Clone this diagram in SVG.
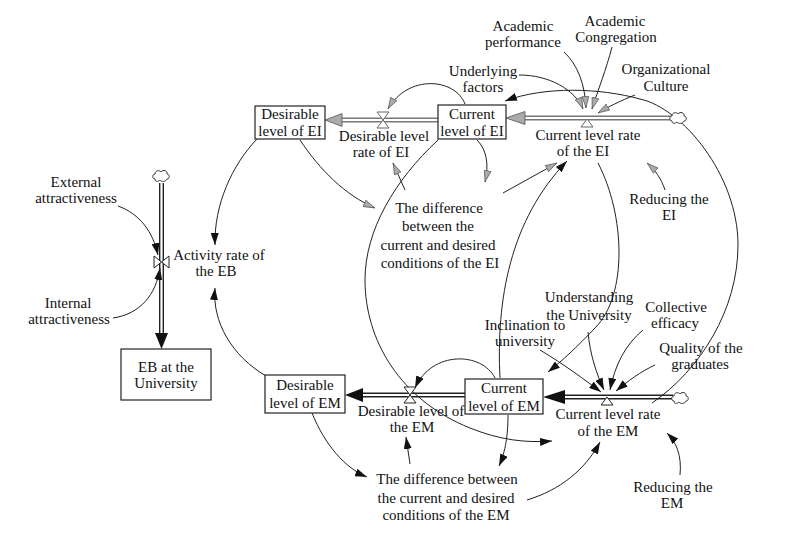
<svg xmlns="http://www.w3.org/2000/svg" width="804" height="549" viewBox="0 0 804 549" font-family="'Liberation Serif', 'Times New Roman', serif">
<style>
text{font-family:"Liberation Serif","Times New Roman",serif;font-size:15px;fill:#111;text-anchor:middle}
.box{fill:#fff;stroke:#222;stroke-width:1.2}
.c{fill:none;stroke:#222;stroke-width:1}
.cb{marker-end:url(#ab)}
.cg{marker-end:url(#ag)}
.pipeO{fill:none;stroke:#222;stroke-width:5}
.pipeI{fill:none;stroke:#fff;stroke-width:2.2}
.pipeOg{fill:none;stroke:#777;stroke-width:5}
.valve{fill:#fff;stroke:#222;stroke-width:1}
.valveg{fill:#fff;stroke:#666;stroke-width:1}
.fa{fill:#111}
.fag{fill:#aaa;stroke:#555;stroke-width:0.8}
.cloud{fill:#fff;stroke:#333;stroke-width:1}
</style>
<defs>
<marker id="ab" viewBox="0 0 12 8" refX="12" refY="4" markerWidth="12" markerHeight="8" orient="auto" markerUnits="userSpaceOnUse"><path d="M0,0 L12,4 L0,8 z" fill="#111"/></marker>
<marker id="ag" viewBox="0 0 12 8" refX="12" refY="4" markerWidth="12" markerHeight="8" orient="auto" markerUnits="userSpaceOnUse"><path d="M0.5,0.5 L11.5,4 L0.5,7.5 z" fill="#aaa" stroke="#555" stroke-width="0.7"/></marker>
<path id="cloudp" d="M-6,3 C-9,3 -9,-2 -6,-2 C-6,-6 -1,-6 0,-4 C2,-7 7,-5 6,-2 C9,-2 9,3 6,3 C5,6 0,6 -1,4 C-3,6 -6,6 -6,3 z"/>
</defs>
<rect width="804" height="549" fill="#fff"/>

<g id="connectors">
  <path class="pipeO" d="M161.5,183 L161.5,334"/><path class="pipeI" d="M161.5,183 L161.5,334"/>
  <polygon class="fa" points="155,333 168,333 161.5,349"/>
  <path class="pipeOg" d="M340,120 L438,120"/><path class="pipeI" d="M340,120 L438,120"/>
  <polygon class="fag" points="325,120 342,113.5 342,126.5"/>
  <path class="pipeOg" d="M523,118 L671,118"/><path class="pipeI" d="M523,118 L671,118"/>
  <polygon class="fag" points="506,118 525,111.5 525,124.5"/>
  <path class="pipeO" d="M360,395 L465,395"/><path class="pipeI" d="M360,395 L465,395"/>
  <polygon class="fa" points="345,395 363,388 363,402"/>
  <path class="pipeO" d="M562,397 L673,397"/><path class="pipeI" d="M562,397 L673,397"/>
  <polygon class="fa" points="543,397 565,390 565,404"/>

  <path class="c cb" d="M118,206 C140,214 153,232 158,255"/>
  <path class="c cb" d="M113,318 C140,314 156,295 160,268"/>
  <path class="c cb" d="M257,139 C232,165 214,205 215,245"/>
  <path class="c cb" d="M266,376 C232,356 212,322 215,288"/>

  <path class="c cg" d="M465,104 C455,78 408,74 388,109"/>
  <path class="c cg" d="M477,140 C487,150 489,165 485,182"/>
  <path class="c cg" d="M300,140 C320,170 345,195 375,208"/>
  <path class="c cg" d="M405,190 L393,163"/>
  <path class="c cg" d="M503,193 L557,163"/>
  <path class="c cg" d="M665,190 C661,178 655,170 647,163"/>
  <path class="c cg" d="M519,75 C550,75 575,90 583,109"/>
  <path class="c cg" d="M564,52 C578,65 585,85 586,108"/>
  <path class="c cg" d="M612,47 C606,70 598,90 592,109"/>
  <path class="c cg" d="M635,95 C620,101 608,107 598,113"/>

  <path class="c cb" d="M652,403 C700,370 738,310 738,245 C738,175 682,108 640,99 C600,88 545,86 505,101"/>
  <path class="c cb" d="M438,140 C395,180 365,230 365,280 C365,340 400,400 470,428 C500,440 525,443 552,441"/>
  <path class="c cb" d="M500,378 C496,300 510,220 567,161"/>
  <path class="c cb" d="M598,163 C625,215 628,295 595,328 C577,347 562,361 548,372"/>

  <path class="c cb" d="M495,378 C482,352 432,350 415,388"/>
  <path class="c cb" d="M508,415 C508,440 504,455 499,466"/>
  <path class="c cb" d="M312,413 C325,445 345,468 367,477"/>
  <path class="c cb" d="M410,464 L406,437"/>
  <path class="c cb" d="M527,500 C560,490 585,470 600,442"/>
  <path class="c cb" d="M680,475 C682,455 676,442 667,433"/>
  <path class="c cb" d="M540,350 C565,365 585,380 601,392"/>
  <path class="c cb" d="M588,332 C590,355 597,375 604,390"/>
  <path class="c cb" d="M643,330 C625,345 615,365 610,390"/>
  <path class="c cb" d="M655,365 C640,372 628,381 616,391"/>
</g>

<g id="clouds">
  <use href="#cloudp" class="cloud" transform="translate(161,176)"/>
  <use href="#cloudp" class="cloud" transform="translate(678,118)"/>
  <use href="#cloudp" class="cloud" transform="translate(680,398)"/>
</g>

<g id="n-eb-stock"><rect class="box" x="121" y="349" width="90" height="51"/><text x="166" y="372">EB at the</text><text x="166" y="388">University</text></g>
<g id="n-eb-rate"><polygon class="valve" points="154,256 154,268 161.5,262"/><polygon class="valve" points="169,256 169,268 161.5,262"/><text x="219" y="260">Activity rate of</text><text x="216" y="276">the EB</text></g>
<g id="n-external"><text x="76" y="187">External</text><text x="76" y="203">attractiveness</text></g>
<g id="n-internal"><text x="68" y="308">Internal</text><text x="69" y="324">attractiveness</text></g>

<g id="n-des-ei"><rect class="box" x="255" y="106" width="70" height="33"/><text x="290" y="119">Desirable</text><text x="290" y="136">level of EI</text></g>
<g id="n-cur-ei"><rect class="box" x="438" y="105" width="68" height="34"/><text x="472" y="119">Current</text><text x="472" y="136">level of EI</text></g>
<g id="n-des-ei-rate"><polygon class="valveg" points="377,112 389,112 383,120"/><polygon class="valveg" points="377,128 389,128 383,120"/><text x="384" y="141">Desirable level</text><text x="381" y="157">rate of EI</text></g>
<g id="n-cur-ei-rate"><polygon class="valveg" points="581,127 593,127 587,119"/><text x="588" y="140">Current level rate</text><text x="583" y="156">of the EI</text></g>
<g id="n-diff-ei"><text x="439" y="213">The difference</text><text x="438" y="231">between the</text><text x="438" y="250">current and desired</text><text x="440" y="268">conditions of the EI</text></g>
<g id="n-acad-perf"><text x="523" y="31">Academic</text><text x="523" y="47">performance</text></g>
<g id="n-acad-cong"><text x="615" y="26">Academic</text><text x="616" y="42">Congregation</text></g>
<g id="n-underlying"><text x="483" y="76">Underlying</text><text x="483" y="92">factors</text></g>
<g id="n-org-culture"><text x="666" y="74">Organizational</text><text x="666" y="91">Culture</text></g>
<g id="n-reducing-ei"><text x="669" y="204">Reducing the</text><text x="669" y="220">EI</text></g>

<g id="n-des-em"><rect class="box" x="265" y="375" width="80" height="38"/><text x="305" y="390">Desirable</text><text x="305" y="408">level of EM</text></g>
<g id="n-cur-em"><rect class="box" x="465" y="379" width="78" height="35"/><text x="504" y="393">Current</text><text x="504" y="411">level of EM</text></g>
<g id="n-des-em-rate"><polygon class="valve" points="404,387 416,387 410,395"/><polygon class="valve" points="404,403 416,403 410,395"/><text x="411" y="416">Desirable level of</text><text x="412" y="432">the EM</text></g>
<g id="n-cur-em-rate"><polygon class="valve" points="601,405 613,405 607,397"/><text x="608" y="419">Current level rate</text><text x="608" y="436">of the EM</text></g>
<g id="n-diff-em"><text x="447" y="484">The difference between</text><text x="446" y="503">the current and desired</text><text x="446" y="520">conditions of the EM</text></g>
<g id="n-inclination"><text x="525" y="330">Inclination to</text><text x="525" y="346">university</text></g>
<g id="n-understanding"><text x="589" y="302">Understanding</text><text x="589" y="320">the University</text></g>
<g id="n-collective"><text x="676" y="312">Collective</text><text x="675" y="328">efficacy</text></g>
<g id="n-quality"><text x="701" y="353">Quality of the</text><text x="700" y="369">graduates</text></g>
<g id="n-reducing-em"><text x="673" y="492">Reducing the</text><text x="672" y="508">EM</text></g>
</svg>
